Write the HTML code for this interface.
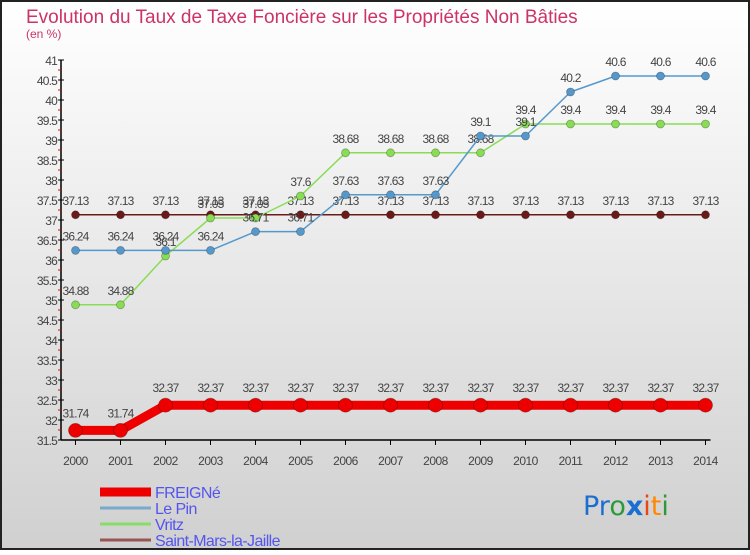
<!DOCTYPE html>
<html><head><meta charset="utf-8"><style>
html,body{margin:0;padding:0}
body{width:750px;height:550px;overflow:hidden;font-family:"Liberation Sans",sans-serif}
</style></head><body>
<svg id="chart" width="750" height="550" xmlns="http://www.w3.org/2000/svg" font-family="Liberation Sans, sans-serif">
<defs><linearGradient id="bg" x1="0" y1="0" x2="0" y2="1"><stop offset="0" stop-color="#ffffff"/><stop offset="1" stop-color="#d0d0d0"/></linearGradient></defs>
<rect x="1" y="1" width="748" height="548" fill="url(#bg)" stroke="#222" stroke-width="2"/>
<text x="26" y="23" font-size="19" fill="#cc3366">Evolution du Taux de Taxe Foncière sur les Propriétés Non Bâties</text>
<text x="26" y="38" font-size="12" fill="#cc3366">(en %)</text>
<g id="axes"></g>
<g id="series"></g>
<g id="legend"></g>
<text x="583" y="515" font-size="27" font-family="DejaVu Sans, sans-serif"><tspan fill="#1a6fd0">Pr</tspan><tspan fill="#2a9a3a">o</tspan><tspan fill="#1a6fd0" font-weight="bold">x</tspan><tspan fill="#ee4411">i</tspan><tspan fill="#ff8800">t</tspan><tspan fill="#2a9a3a">i</tspan></text>
</svg>
<script>
const years = [2000,2001,2002,2003,2004,2005,2006,2007,2008,2009,2010,2011,2012,2013,2014];
const yTicks = [31.5,32,32.5,33,33.5,34,34.5,35,35.5,36,36.5,37,37.5,38,38.5,39,39.5,40,40.5,41];
const freigne = [31.74,31.74,32.37,32.37,32.37,32.37,32.37,32.37,32.37,32.37,32.37,32.37,32.37,32.37,32.37];
const lePin = [36.24,36.24,36.24,36.24,36.71,36.71,37.63,37.63,37.63,39.1,39.1,40.2,40.6,40.6,40.6];
const vritz = [34.88,34.88,36.1,37.05,37.05,37.6,38.68,38.68,38.68,38.68,39.4,39.4,39.4,39.4,39.4];
const saintMars = [37.13,37.13,37.13,37.13,37.13,37.13,37.13,37.13,37.13,37.13,37.13,37.13,37.13,37.13,37.13];
const seriesNames = ["FREIGNé","Le Pin","Vritz","Saint-Mars-la-Jaille"];

const NS="http://www.w3.org/2000/svg";
const X0=75.5, XSTEP=45, YBASE=440, YMIN=31.5, YSCALE=40;
function xPos(i){return X0+i*XSTEP;}
function yPos(v){return YBASE-(v-YMIN)*YSCALE;}
function mk(tag,attrs,parent){const e=document.createElementNS(NS,tag);for(const k in attrs)e.setAttribute(k,attrs[k]);parent.appendChild(e);return e;}
function fmt(v){return String(v);}

const axes=document.getElementById('axes');
const yAxis=mk('line',{x1:61,y1:yPos(41),x2:61,y2:YBASE,stroke:'#000','stroke-width':1.5},axes);


const xAxis=mk('line',{x1:61,y1:YBASE,x2:xPos(years.length-1)+5,y2:YBASE,stroke:'#000','stroke-width':1.5},axes);


yTicks.forEach((t,i)=>{
  const y=yPos(t);
  mk('line',{x1:58,y1:y,x2:64,y2:y,stroke:'#000'},axes);
  if(i<yTicks.length-1){mk('line',{x1:58,y1:y-10,x2:61,y2:y-10,stroke:'#e00'},axes);}
  const tx=mk('text',{x:57,y:y+5,'font-size':12,'text-anchor':'end',fill:'#444','letter-spacing':'-0.8'},axes);
  tx.textContent=fmt(t);
  
  
});
years.forEach((yr,i)=>{
  const x=xPos(i);
  mk('line',{x1:x,y1:YBASE,x2:x,y2:YBASE+5,stroke:'#000'},axes);
  const tx=mk('text',{x:x,y:YBASE+25,'font-size':12,'text-anchor':'middle',fill:'#444','letter-spacing':'-0.5'},axes);
  tx.textContent=yr;
  
  
});

const sg=document.getElementById('series');
function drawSeries(vals,color,w,r,name){
  const g=mk('g',{},sg);
  
  
  const pts=vals.map((v,i)=>xPos(i)+','+yPos(v)).join(' ');
  const pl=mk('polyline',{points:pts,fill:'none',stroke:color,'stroke-width':w,'stroke-linejoin':'round'},g);
  
  
  vals.forEach((v,i)=>{
    const c=mk('circle',{cx:xPos(i),cy:yPos(v),r:r,fill:color,stroke:'rgba(0,0,0,0.3)','stroke-width':0.8},g);
    
    
    const t=mk('text',{x:xPos(i),y:yPos(v)-(r+6),'font-size':12,'text-anchor':'middle',fill:'#444','letter-spacing':'-0.8'},g);
    t.textContent=fmt(v);
    
    
  });
}
drawSeries(saintMars,'#6b1a1a',1.5,4,'saint-mars');
drawSeries(vritz,'#88dd55',1.5,4,'vritz');
drawSeries(lePin,'#5599cc',1.5,4,'le-pin');
drawSeries(freigne,'#ee0000',9,7,'freigne');

const lg=document.getElementById('legend');
const lcolors=['#ee0000','#77aacc','#88dd66','#995555'];
const lwidth=[9,3,3,3];
seriesNames.forEach((n,i)=>{
  const y=492+i*16;
  const g=mk('g',{},lg);
  
  
  mk('line',{x1:100,y1:y,x2:151,y2:y,stroke:lcolors[i],'stroke-width':lwidth[i]},g);
  const t=mk('text',{x:155,y:y+6,'font-size':16,fill:'#5555ee','letter-spacing':'-0.6'},g);
  t.textContent=n;
});
</script>
</body></html>
